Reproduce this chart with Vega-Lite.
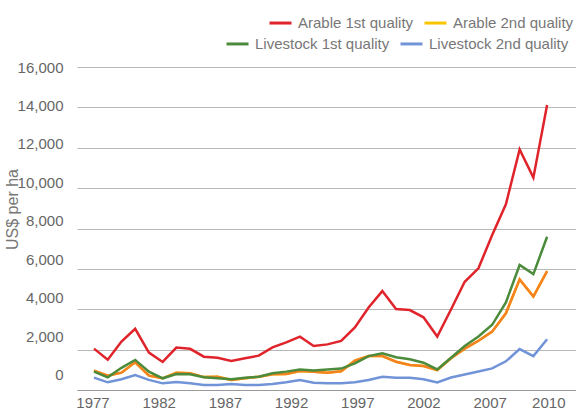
{
  "$schema": "https://vega.github.io/schema/vega-lite/v6.json",
  "width": 499,
  "height": 323,
  "autosize": "none",
  "padding": {"left": 77, "top": 67, "right": 0, "bottom": 19},
  "config": {"view": {"stroke": null}, "font": "Liberation Sans"},
  "data": {"values": [
    {"year":1977,"series":"Arable 1st quality","value":2050},{"year":1978,"series":"Arable 1st quality","value":1500},{"year":1979,"series":"Arable 1st quality","value":2400},{"year":1980,"series":"Arable 1st quality","value":3030},{"year":1981,"series":"Arable 1st quality","value":1850},{"year":1982,"series":"Arable 1st quality","value":1390},{"year":1983,"series":"Arable 1st quality","value":2100},{"year":1984,"series":"Arable 1st quality","value":2040},{"year":1985,"series":"Arable 1st quality","value":1650},{"year":1986,"series":"Arable 1st quality","value":1600},{"year":1987,"series":"Arable 1st quality","value":1440},{"year":1988,"series":"Arable 1st quality","value":1570},{"year":1989,"series":"Arable 1st quality","value":1700},{"year":1990,"series":"Arable 1st quality","value":2110},{"year":1991,"series":"Arable 1st quality","value":2360},{"year":1992,"series":"Arable 1st quality","value":2640},{"year":1993,"series":"Arable 1st quality","value":2180},{"year":1994,"series":"Arable 1st quality","value":2260},{"year":1995,"series":"Arable 1st quality","value":2430},{"year":1996,"series":"Arable 1st quality","value":3100},{"year":1997,"series":"Arable 1st quality","value":4090},{"year":1998,"series":"Arable 1st quality","value":4900},{"year":1999,"series":"Arable 1st quality","value":4010},{"year":2000,"series":"Arable 1st quality","value":3960},{"year":2001,"series":"Arable 1st quality","value":3600},{"year":2002,"series":"Arable 1st quality","value":2650},{"year":2003,"series":"Arable 1st quality","value":3990},{"year":2004,"series":"Arable 1st quality","value":5360},{"year":2005,"series":"Arable 1st quality","value":6030},{"year":2006,"series":"Arable 1st quality","value":7680},{"year":2007,"series":"Arable 1st quality","value":9200},{"year":2008,"series":"Arable 1st quality","value":11920},{"year":2009,"series":"Arable 1st quality","value":10520},{"year":2010,"series":"Arable 1st quality","value":14120},
    {"year":1977,"series":"Arable 2nd quality","value":960},{"year":1978,"series":"Arable 2nd quality","value":710},{"year":1979,"series":"Arable 2nd quality","value":860},{"year":1980,"series":"Arable 2nd quality","value":1370},{"year":1981,"series":"Arable 2nd quality","value":710},{"year":1982,"series":"Arable 2nd quality","value":580},{"year":1983,"series":"Arable 2nd quality","value":860},{"year":1984,"series":"Arable 2nd quality","value":830},{"year":1985,"series":"Arable 2nd quality","value":640},{"year":1986,"series":"Arable 2nd quality","value":660},{"year":1987,"series":"Arable 2nd quality","value":500},{"year":1988,"series":"Arable 2nd quality","value":580},{"year":1989,"series":"Arable 2nd quality","value":660},{"year":1990,"series":"Arable 2nd quality","value":780},{"year":1991,"series":"Arable 2nd quality","value":790},{"year":1992,"series":"Arable 2nd quality","value":940},{"year":1993,"series":"Arable 2nd quality","value":910},{"year":1994,"series":"Arable 2nd quality","value":860},{"year":1995,"series":"Arable 2nd quality","value":930},{"year":1996,"series":"Arable 2nd quality","value":1450},{"year":1997,"series":"Arable 2nd quality","value":1680},{"year":1998,"series":"Arable 2nd quality","value":1680},{"year":1999,"series":"Arable 2nd quality","value":1400},{"year":2000,"series":"Arable 2nd quality","value":1240},{"year":2001,"series":"Arable 2nd quality","value":1190},{"year":2002,"series":"Arable 2nd quality","value":990},{"year":2003,"series":"Arable 2nd quality","value":1570},{"year":2004,"series":"Arable 2nd quality","value":2050},{"year":2005,"series":"Arable 2nd quality","value":2440},{"year":2006,"series":"Arable 2nd quality","value":2890},{"year":2007,"series":"Arable 2nd quality","value":3800},{"year":2008,"series":"Arable 2nd quality","value":5480},{"year":2009,"series":"Arable 2nd quality","value":4630},{"year":2010,"series":"Arable 2nd quality","value":5890},
    {"year":1977,"series":"Livestock 1st quality","value":910},{"year":1978,"series":"Livestock 1st quality","value":630},{"year":1979,"series":"Livestock 1st quality","value":1100},{"year":1980,"series":"Livestock 1st quality","value":1490},{"year":1981,"series":"Livestock 1st quality","value":910},{"year":1982,"series":"Livestock 1st quality","value":580},{"year":1983,"series":"Livestock 1st quality","value":790},{"year":1984,"series":"Livestock 1st quality","value":780},{"year":1985,"series":"Livestock 1st quality","value":630},{"year":1986,"series":"Livestock 1st quality","value":580},{"year":1987,"series":"Livestock 1st quality","value":530},{"year":1988,"series":"Livestock 1st quality","value":610},{"year":1989,"series":"Livestock 1st quality","value":660},{"year":1990,"series":"Livestock 1st quality","value":830},{"year":1991,"series":"Livestock 1st quality","value":910},{"year":1992,"series":"Livestock 1st quality","value":1020},{"year":1993,"series":"Livestock 1st quality","value":960},{"year":1994,"series":"Livestock 1st quality","value":1010},{"year":1995,"series":"Livestock 1st quality","value":1060},{"year":1996,"series":"Livestock 1st quality","value":1320},{"year":1997,"series":"Livestock 1st quality","value":1680},{"year":1998,"series":"Livestock 1st quality","value":1820},{"year":1999,"series":"Livestock 1st quality","value":1620},{"year":2000,"series":"Livestock 1st quality","value":1520},{"year":2001,"series":"Livestock 1st quality","value":1350},{"year":2002,"series":"Livestock 1st quality","value":1020},{"year":2003,"series":"Livestock 1st quality","value":1600},{"year":2004,"series":"Livestock 1st quality","value":2180},{"year":2005,"series":"Livestock 1st quality","value":2650},{"year":2006,"series":"Livestock 1st quality","value":3230},{"year":2007,"series":"Livestock 1st quality","value":4340},{"year":2008,"series":"Livestock 1st quality","value":6190},{"year":2009,"series":"Livestock 1st quality","value":5740},{"year":2010,"series":"Livestock 1st quality","value":7590},
    {"year":1977,"series":"Livestock 2nd quality","value":610},{"year":1978,"series":"Livestock 2nd quality","value":380},{"year":1979,"series":"Livestock 2nd quality","value":530},{"year":1980,"series":"Livestock 2nd quality","value":740},{"year":1981,"series":"Livestock 2nd quality","value":500},{"year":1982,"series":"Livestock 2nd quality","value":330},{"year":1983,"series":"Livestock 2nd quality","value":400},{"year":1984,"series":"Livestock 2nd quality","value":340},{"year":1985,"series":"Livestock 2nd quality","value":250},{"year":1986,"series":"Livestock 2nd quality","value":250},{"year":1987,"series":"Livestock 2nd quality","value":300},{"year":1988,"series":"Livestock 2nd quality","value":250},{"year":1989,"series":"Livestock 2nd quality","value":250},{"year":1990,"series":"Livestock 2nd quality","value":300},{"year":1991,"series":"Livestock 2nd quality","value":380},{"year":1992,"series":"Livestock 2nd quality","value":500},{"year":1993,"series":"Livestock 2nd quality","value":360},{"year":1994,"series":"Livestock 2nd quality","value":330},{"year":1995,"series":"Livestock 2nd quality","value":330},{"year":1996,"series":"Livestock 2nd quality","value":380},{"year":1997,"series":"Livestock 2nd quality","value":500},{"year":1998,"series":"Livestock 2nd quality","value":660},{"year":1999,"series":"Livestock 2nd quality","value":610},{"year":2000,"series":"Livestock 2nd quality","value":610},{"year":2001,"series":"Livestock 2nd quality","value":530},{"year":2002,"series":"Livestock 2nd quality","value":370},{"year":2003,"series":"Livestock 2nd quality","value":620},{"year":2004,"series":"Livestock 2nd quality","value":770},{"year":2005,"series":"Livestock 2nd quality","value":920},{"year":2006,"series":"Livestock 2nd quality","value":1070},{"year":2007,"series":"Livestock 2nd quality","value":1420},{"year":2008,"series":"Livestock 2nd quality","value":2030},{"year":2009,"series":"Livestock 2nd quality","value":1680},{"year":2010,"series":"Livestock 2nd quality","value":2510}
  ]},
  "encoding": {
    "x": {
      "field": "year", "type": "quantitative",
      "scale": {"domain": [1975.762, 2012.105], "nice": false, "zero": false},
      "axis": {
        "title": null, "values": [1977, 1982, 1987, 1992, 1997, 2002, 2007, 2010], "format": "d",
        "grid": false, "ticks": false, "domain": true, "domainColor": "#999999", "domainWidth": 1,
        "labelFontSize": 15, "labelColor": "#666666", "labelPadding": 5, "labelFont": "Liberation Sans",
        "labelOffset": {"condition": [
          {"test": "datum.value == 1977", "value": -1.5},
          {"test": "datum.value == 1982", "value": -4},
          {"test": "datum.value == 1987", "value": -6.4},
          {"test": "datum.value == 1992", "value": -8.9},
          {"test": "datum.value == 1997", "value": -11.3},
          {"test": "datum.value == 2002", "value": -13.8},
          {"test": "datum.value == 2007", "value": -16.2}
        ], "value": 1.2}
      }
    },
    "y": {
      "field": "value", "type": "quantitative",
      "scale": {"domain": [0, 16000], "nice": false},
      "axis": {
        "title": "US$ per ha", "values": [0, 2000, 4000, 6000, 8000, 10000, 12000, 14000, 16000], "format": ",d",
        "grid": true, "gridColor": "#b8b8b8", "gridWidth": 1, "domain": false, "ticks": false,
        "labelFontSize": 15, "labelColor": "#666666", "labelPadding": 14, "labelFont": "Liberation Sans",
        "labelOffset": {"condition": [
          {"test": "datum.value == 0", "value": -15.2},
          {"test": "datum.value == 2000", "value": -13.3},
          {"test": "datum.value == 4000", "value": -11.4},
          {"test": "datum.value == 6000", "value": -9.5},
          {"test": "datum.value == 8000", "value": -7.6},
          {"test": "datum.value == 10000", "value": -5.7},
          {"test": "datum.value == 12000", "value": -3.8},
          {"test": "datum.value == 14000", "value": -1.9}
        ], "value": 0},
        "titleFontSize": 16, "titleFontWeight": "normal", "titleColor": "#777777", "titleFont": "Liberation Sans",
        "titleAngle": 270, "titleAlign": "center", "titleBaseline": "middle", "titleX": -65, "titleY": 142
      }
    }
  },
  "layer": [
    {
      "transform": [{"filter": "indexof(datum.series, 'Arable') == 0"}],
      "mark": {"type": "line", "strokeWidth": 2.5},
      "encoding": {
        "color": {
          "field": "series", "type": "nominal",
          "scale": {"domain": ["Arable 1st quality", "Arable 2nd quality"], "range": ["#e0242b", "#fbc400"]},
          "legend": {
            "title": null, "orient": "none", "legendX": 191, "legendY": -56.7, "direction": "horizontal",
            "symbolType": "stroke", "symbolSize": 484, "symbolStrokeWidth": 3,
            "labelFontSize": 15, "labelColor": "#777777", "labelFont": "Liberation Sans",
            "labelOffset": 5, "columnPadding": 4, "labelLimit": 300
          }
        }
      }
    },
    {
      "transform": [{"filter": "datum.series == 'Arable 2nd quality'"}],
      "mark": {"type": "line", "strokeWidth": 2.5, "color": "#f58220"},
      "encoding": {}
    },
    {
      "transform": [{"filter": "indexof(datum.series, 'Livestock') == 0"}],
      "mark": {"type": "line", "strokeWidth": 2.5},
      "encoding": {
        "color": {
          "field": "series", "type": "nominal",
          "scale": {"domain": ["Livestock 1st quality", "Livestock 2nd quality"], "range": ["#4b8b3b", "#7193d8"]},
          "legend": {
            "title": null, "orient": "none", "legendX": 148, "legendY": -35.8, "direction": "horizontal",
            "symbolType": "stroke", "symbolSize": 484, "symbolStrokeWidth": 3,
            "labelFontSize": 15, "labelColor": "#777777", "labelFont": "Liberation Sans",
            "labelOffset": 5, "columnPadding": 4, "labelLimit": 300
          }
        }
      }
    }
  ],
  "resolve": {"scale": {"color": "independent"}}
}
